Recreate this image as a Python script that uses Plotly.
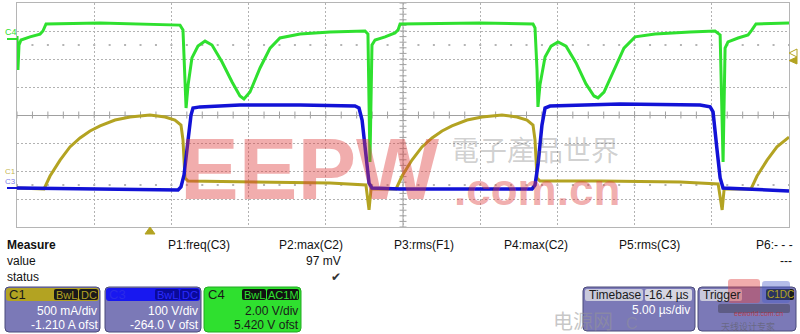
import numpy as np
import plotly.graph_objects as go

# ---------------- data (time in us from left screen edge, 5 us/div; level in divisions from centre)
c4_t = [0.00,0.06,0.13,0.26,0.84,1.49,1.68,1.88,5.38,10.56,10.75,10.88,10.95,11.08,11.33,11.72,12.18,12.63,13.28,13.93,14.44,14.70,15.09,15.74,16.39,17.03,18.33,20.27,22.54,22.73,22.86,22.99,23.19,23.84,24.48,24.68,24.81,29.99,33.42,33.55,33.68,33.74,33.87,34.20,34.59,35.04,35.56,36.21,36.85,37.37,37.63,38.02,38.67,39.31,40.03,41.32,43.59,45.21,45.54,45.73,45.86,46.05,46.70,47.35,47.60,47.86,50.00]
c4_v = [2.82,1.61,2.50,2.68,2.79,2.89,3.00,3.25,3.29,3.21,3.04,1.43,0.25,1.07,2.04,2.46,2.64,2.50,1.89,1.18,0.68,0.57,0.82,1.68,2.39,2.75,2.89,2.96,3.00,2.89,-1.68,2.50,2.68,2.79,2.93,3.04,3.25,3.29,3.25,3.11,1.61,0.29,1.07,2.07,2.46,2.61,2.46,1.86,1.11,0.68,0.61,0.82,1.61,2.39,2.79,2.89,2.96,3.00,2.86,-1.68,2.39,2.61,2.75,2.86,3.04,3.25,3.29]

c3_t = [0.00,5.38,10.43,10.62,10.82,11.08,11.27,11.40,11.85,14.44,18.33,21.89,22.15,22.35,22.60,22.80,22.99,24.81,33.36,33.55,33.74,34.00,34.20,34.52,39.05,44.24,44.89,45.08,45.34,45.54,45.73,50.00]
c3_v = [-2.61,-2.64,-2.68,-2.57,-2.14,-0.89,0.00,0.25,0.29,0.36,0.36,0.32,0.25,-0.18,-1.61,-2.43,-2.61,-2.64,-2.64,-2.50,-1.79,-0.36,0.25,0.32,0.39,0.36,0.29,0.11,-1.25,-2.25,-2.61,-2.71]

c1_t = [0.00,1.75,2.14,2.79,3.43,4.08,4.73,5.38,6.35,7.32,8.61,9.59,10.23,10.62,10.75,10.88,11.08,15.09,20.27,22.60,22.80,22.93,24.55,24.94,25.58,26.23,26.88,27.53,28.17,29.15,30.12,31.41,32.38,33.03,33.42,33.55,33.68,33.87,37.76,42.95,45.41,45.67,45.80,47.54,47.93,48.58,49.22,50.00]
c1_v = [-2.61,-2.64,-2.18,-1.61,-1.14,-0.82,-0.57,-0.39,-0.18,-0.07,0.00,-0.07,-0.18,-0.36,-0.89,-2.25,-2.36,-2.39,-2.43,-2.50,-3.39,-2.64,-2.64,-2.18,-1.61,-1.14,-0.82,-0.57,-0.39,-0.18,-0.07,0.00,-0.07,-0.18,-0.36,-0.89,-2.25,-2.36,-2.36,-2.39,-2.46,-3.39,-2.64,-2.64,-2.18,-1.61,-1.14,-0.79]

measure_heads = ["P1:freq(C3)", "P2:max(C2)", "P3:rms(F1)", "P4:max(C2)", "P5:rms(C3)", "P6:- - -"]
measure_values = ["", "97 mV", "", "", "", "---"]
measure_status = ["", "\u2714", "", "", "", ""]

channels = [
    dict(name="C1", tags=["BwL", "DC"], vdiv="500 mA/div", ofst="-1.210 A ofst"),
    dict(name="C3", tags=["BwL", "DC"], vdiv="100 V/div", ofst="-264.0 V ofst"),
    dict(name="C4", tags=["BwL", "AC1M"], vdiv="2.00 V/div", ofst="5.420 V ofst"),
]
timebase = dict(delay="-16.4 \u00b5s", tdiv="5.00 \u00b5s/div")

# ---------------- style
YEL = "#b3a322"
BLU = "#1212d6"
GRN = "#2fe02f"
GRID = "#b2b2b2"
CENTER = "#a0a0a0"
FONT = "Liberation Sans, Arial, sans-serif"
BOXC = "#7b79b7"

def P(x):
    return x / 800.0

def Q(y):
    return 1 - y / 334.0

fig = go.Figure()

# decoration: ticks on centre lines and dot rows
tk = np.arange(0, 50.01, 1.0)
fig.add_trace(go.Scatter(x=tk, y=np.zeros_like(tk), mode="markers",
                         marker=dict(symbol="line-ns", size=5, line=dict(width=1, color=CENTER)),
                         hoverinfo="skip"))
vk = np.arange(-4, 4.01, 0.2)
fig.add_trace(go.Scatter(x=np.full_like(vk, 25.0), y=vk, mode="markers",
                         marker=dict(symbol="line-ew", size=5, line=dict(width=1, color=CENTER)),
                         hoverinfo="skip"))
for lv in (2.5, -2.5):
    fig.add_trace(go.Scatter(x=tk, y=np.full_like(tk, lv), mode="markers",
                             marker=dict(symbol="square", size=2, color="#b4b4b4"),
                             hoverinfo="skip"))

# waveforms
fig.add_trace(go.Scatter(x=c1_t, y=c1_v, mode="lines", line=dict(color=YEL, width=3), hoverinfo="skip"))
fig.add_trace(go.Scatter(x=c3_t, y=c3_v, mode="lines", line=dict(color=BLU, width=3.5), hoverinfo="skip"))
fig.add_trace(go.Scatter(x=c4_t, y=c4_v, mode="lines", line=dict(color=GRN, width=3), hoverinfo="skip"))

shapes = []
# vertical centre line
shapes.append(dict(type="line", xref="x", yref="y", x0=25, x1=25, y0=-4, y1=4,
                   line=dict(color=CENTER, width=1), layer="below"))

def rrect(x0, y0, x1, y1, r, fill, line=None, lw=1):
    path = (f"M {P(x0+r)},{Q(y0)} L {P(x1-r)},{Q(y0)} Q {P(x1)},{Q(y0)} {P(x1)},{Q(y0+r)} "
            f"L {P(x1)},{Q(y1-r)} Q {P(x1)},{Q(y1)} {P(x1-r)},{Q(y1)} "
            f"L {P(x0+r)},{Q(y1)} Q {P(x0)},{Q(y1)} {P(x0)},{Q(y1-r)} "
            f"L {P(x0)},{Q(y0+r)} Q {P(x0)},{Q(y0)} {P(x0+r)},{Q(y0)} Z")
    shapes.append(dict(type="path", xref="paper", yref="paper", path=path, fillcolor=fill,
                       line=dict(color=line if line else fill, width=lw if line else 0), layer="above"))

def poly(pts, fill, line=None):
    path = "M " + " L ".join(f"{P(x)},{Q(y)}" for x, y in pts) + " Z"
    shapes.append(dict(type="path", xref="paper", yref="paper", path=path, fillcolor=fill,
                       line=dict(color=line if line else fill, width=1), layer="above"))

def seg(x0, y0, x1, y1, color, w=1):
    shapes.append(dict(type="line", xref="paper", yref="paper", x0=P(x0), y0=Q(y0), x1=P(x1), y1=Q(y1),
                       line=dict(color=color, width=w), layer="above"))

ann = []
def txt(x, y, s, size=12, color="#111111", xanchor="left", bold=False, family=FONT):
    ann.append(dict(x=P(x), y=Q(y), xref="paper", yref="paper", text=s, showarrow=False,
                    xanchor=xanchor, yanchor="middle", borderpad=0,
                    font=dict(size=size, color=color, family=family, weight="bold" if bold else "normal")))

# channel markers on left
txt(4, 32, "C4", size=9, color=GRN)
seg(7, 39, 17, 39, GRN, 2)
txt(4, 172, "C1", size=8, color="rgba(179,163,34,0.8)")
txt(4, 181, "C3", size=8, color="rgba(18,18,214,0.6)")
seg(7, 188, 17, 188, BLU, 2)

# trigger markers
poly([(797, 49), (797, 57), (789, 53)], "rgba(255,255,255,1)", line=YEL)
poly([(797, 57), (797, 64), (789, 60.5)], YEL)
poly([(150, 227), (145, 234), (155, 234)], YEL)

# watermark in plot
txt(309, 168, "EEPW", size=88, color="rgba(222,60,60,0.42)", xanchor="center", bold=True)
txt(537, 189, ".com.cn", size=44, color="rgba(222,60,60,0.42)", xanchor="center", bold=True)
txt(535, 149, "電子產品世界", size=28, color="rgba(110,110,110,0.33)", xanchor="center",
    family="Noto Sans CJK TC")

# measure table
txt(6, 245, "Measure", size=12, bold=True)
txt(6, 261, "value", size=12)
txt(6, 277, "status", size=12)
head_x = [167, 278, 393, 503, 618, 755]
right_x = [229, 342, 455, 567, 680, 793]
for hx, rx, h, v, s in zip(head_x, right_x, measure_heads, measure_values, measure_status):
    txt(hx, 245, h, size=12)
    if v:
        txt(rx, 261, v, size=12, xanchor="right")
    if s:
        txt(rx, 277, s, size=12, xanchor="right", color="#333333", family="DejaVu Sans")

# channel boxes
box_x = [(5, 100), (105, 201), (204, 301)]
hdr_col = [YEL, "#1818f0", GRN]
tag_bg = ["#1a1a1a", "#0a0a9a", "#111111"]
tag_fg = [YEL, "#2a2aff", GRN]
name_col = ["#1a1a1a", "#2a2ae8", "#1a1a1a"]
body_txt = ["#ffffff", "#ffffff", "#1a1a1a"]
for (x0, x1), ch, hc, tb, tf, nc, bt in zip(box_x, channels, hdr_col, tag_bg, tag_fg, name_col, body_txt):
    body = GRN if ch["name"] == "C4" else BOXC
    rrect(x0, 287, x1, 332, 4, body, line="#4a4a7a" if ch["name"] != "C4" else "#22aa22")
    rrect(x0 + 1, 288, x1 - 1, 301, 3, hc)
    txt(x0 + 3, 294.5, ch["name"], size=13, color=nc)
    widths = [24 if t == "BwL" else (32 if t == "AC1M" else 19) for t in ch["tags"]]
    xr = x1 - 2
    pos = []
    for w in reversed(widths):
        pos.append((xr - w, xr))
        xr -= w + 1
    pos = list(reversed(pos))
    for (tx0, tx1), t in zip(pos, ch["tags"]):
        rrect(tx0, 289, tx1, 300, 2, tb)
        txt((tx0 + tx1) / 2, 294.5, t, size=11, color=tf, xanchor="center")
    txt(x1 - 2, 311, ch["vdiv"], size=12, color=bt, xanchor="right")
    txt(x1 - 1, 325, ch["ofst"], size=12, color=bt, xanchor="right")

# timebase box
rrect(583, 287, 695, 331, 4, BOXC, line="#4a4a7a")
rrect(585, 289, 643, 301, 2, "#c9c9db")
rrect(645, 289, 692, 301, 2, "#d6d6e2")
txt(588, 295, "Timebase", size=12, color="#1a1a1a")
txt(690, 295, timebase["delay"], size=12, color="#1a1a1a", xanchor="right")
txt(691, 310, timebase["tdiv"], size=12, color="#ffffff", xanchor="right")

# trigger box
rrect(698, 287, 796, 331, 4, BOXC, line="#4a4a7a")
rrect(700, 289, 742, 301, 2, "#c9c9db")
txt(702, 295, "Trigger", size=12, color="#1a1a1a")
rrect(766, 289, 794, 300, 2, "#1a1a1a")
txt(780, 294.5, "C1DC", size=10, color=YEL, xanchor="center")

# bottom-right watermark logos (shapes) and text
rrect(728, 279, 760, 303, 3, "rgba(225,70,70,0.45)")
rrect(762, 281, 790, 303, 3, "rgba(70,90,200,0.40)")
rrect(718, 304, 790, 313, 2, "rgba(40,40,40,0.35)")
txt(583, 320, "电源网", size=20, color="rgba(150,150,150,0.55)", xanchor="center",
    family="Noto Sans CJK SC")
txt(632, 323, "C", size=16, color="rgba(150,150,150,0.45)", xanchor="center")
txt(758, 313, "eeworld.com.cn", size=7, color="rgba(200,40,40,0.75)", xanchor="center")
txt(748, 326, "天线设计专家", size=9, color="rgba(90,90,90,0.55)", xanchor="center",
    family="Noto Sans CJK SC")

fig.update_layout(
    width=800, height=334, margin=dict(l=0, r=0, t=0, b=0),
    paper_bgcolor="white", plot_bgcolor="white", showlegend=False,
    xaxis=dict(domain=[17 / 800, 789 / 800], range=[0, 50], dtick=5, tick0=0,
               showgrid=True, griddash="2px,2px", gridcolor=GRID, gridwidth=1,
               zeroline=False, showline=True, mirror=True, linecolor="#b5b5b5", linewidth=1,
               showticklabels=False, ticks="", fixedrange=True),
    yaxis=dict(domain=[(334 - 227) / 334, (334 - 3) / 334], range=[-4, 4], dtick=1, tick0=0,
               showgrid=True, griddash="2px,2px", gridcolor=GRID, gridwidth=1,
               zeroline=True, zerolinecolor=CENTER, zerolinewidth=1,
               showline=True, mirror=True, linecolor="#b5b5b5", linewidth=1,
               showticklabels=False, ticks="", fixedrange=True),
    shapes=shapes, annotations=ann,
)

fig.write_html("out.html")
